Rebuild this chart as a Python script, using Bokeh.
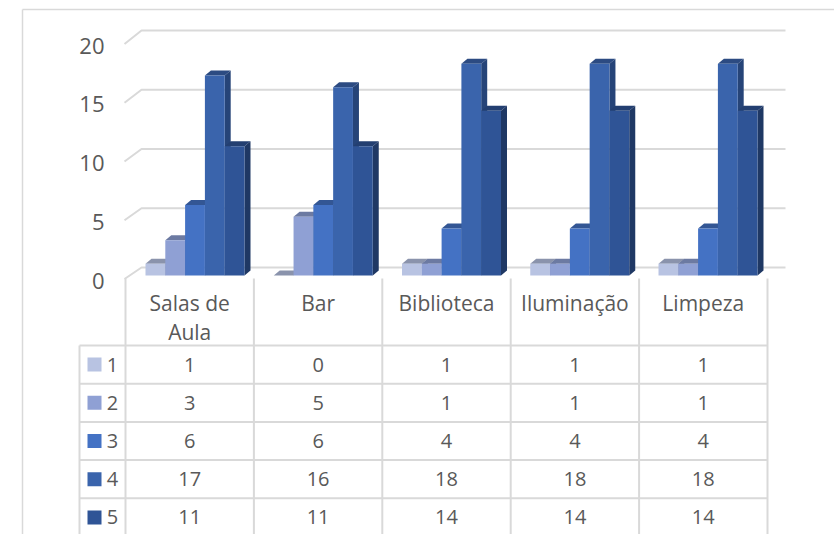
from bokeh.plotting import figure
from bokeh.embed import file_html
from bokeh.resources import INLINE
from bokeh.models import Range1d, LinearAxis, FixedTicker
from bokeh.core.properties import value

categories = ["Salas de\nAula", "Bar", "Biblioteca", "Iluminação", "Limpeza"]
series_names = ["1", "2", "3", "4", "5"]
s1 = [1, 0, 1, 1, 1]
s2 = [3, 5, 1, 1, 1]
s3 = [6, 6, 4, 4, 4]
s4 = [17, 16, 18, 18, 18]
s5 = [11, 11, 14, 14, 14]
y_ticks = [0, 5, 10, 15, 20]
front = ["#B8C3E2", "#8FA0D4", "#4472C4", "#3A64AC", "#2F5496"]
top = ["#8A93AC", "#6C7AA2", "#335694", "#2C4B82", "#233F71"]
side = ["#7C86A4", "#5F6D99", "#2D4D87", "#264478", "#1F3864"]

series = [s1, s2, s3, s4, s5]
FONT = "Open Sans"
TXT = "#595959"
GRID = "#D9D9D9"

W, H = 834, 534
PX0, PXU = 194.5, 128.25     # pixel of group centre 0, pixels per group
PY0, PYU = 280.0, 11.75      # pixel of value 0, pixels per value
def X(px): return (px - PX0) / PXU
def Y(py): return (PY0 - py) / PYU
dx = 1 / PXU
dy = 1 / PYU

p = figure(width=W, height=H, output_backend="svg", toolbar_location=None,
           x_range=Range1d(X(0), X(W)), y_range=Range1d(Y(H), Y(0)),
           min_border=0, min_border_left=0, min_border_right=0, min_border_top=0, min_border_bottom=0,
           x_axis_type=None, y_axis_type=None, outline_line_color=None)
p.grid.visible = False

# value axis
ax = LinearAxis(ticker=FixedTicker(ticks=y_ticks), fixed_location=X(111),
                axis_line_color=None, major_tick_line_color=None, minor_tick_line_color=None,
                major_label_text_font=FONT, major_label_text_font_size="22px",
                major_label_text_color=TXT, major_label_standoff=1)
p.add_layout(ax, "left")

# chart border
p.segment(x0=[X(22), X(22)], y0=[Y(9), Y(9)], x1=[X(834), X(22)], y1=[Y(9), Y(534)], line_color=GRID, line_width=1.5)

# walls
for t in y_ticks:
    fy = Y(278.5) + t
    by = Y(267) + t * (11.85 / PYU)
    p.line([X(124), X(141), X(785)], [fy, by, by], line_color=GRID, line_width=2)

# bars
BW = 19.8 / PXU
D_X, D_Y = 6 * dx, 5 * dy
base = Y(275)
for k, vals in enumerate(series):
    for i, v in enumerate(vals):
        l = i + (k - 2.5) * BW
        r = l + BW
        t = base + v * (11.76 / PYU)
        p.patch([l, l + D_X, r + D_X, r], [t, t + D_Y, t + D_Y, t], fill_color=top[k], line_color=None)
        p.patch([r, r + D_X, r + D_X, r], [base, base + D_Y, t + D_Y, t], fill_color=side[k], line_color=None)
        p.quad(left=l, right=r, bottom=base, top=t, fill_color=front[k], line_color=None)

# data table
cell_x = [125 + 128.4 * i for i in range(6)]
row_y = [345 + 38.2 * i for i in range(6)]
for cx in cell_x:
    p.segment(X(cx), Y(278), X(cx), Y(534), line_color=GRID, line_width=2)
p.segment(X(79), Y(345), X(79), Y(534), line_color=GRID, line_width=2)
for ry in row_y:
    p.segment(X(79), Y(ry), X(767), Y(ry), line_color=GRID, line_width=2)

for i, c in enumerate(categories):
    cxm = X((cell_x[i] + cell_x[i + 1]) / 2)
    lines = c.split("\n")
    for j, line in enumerate(lines):
        p.text([cxm], [Y(302.5 + 29 * j)], text=[line], text_font=value(FONT), text_font_size="21px",
               text_color=TXT, text_align="center", text_baseline="middle")

for k, vals in enumerate(series):
    cy = (row_y[k] + row_y[k + 1]) / 2
    p.quad(left=X(87), right=X(101), top=Y(cy - 7), bottom=Y(cy + 7), fill_color=front[k], line_color=None)
    p.text([X(112)], [Y(cy)], text=[series_names[k]], text_font=value(FONT), text_font_size="20px",
           text_color=TXT, text_align="center", text_baseline="middle")
    for i, v in enumerate(vals):
        p.text([X((cell_x[i] + cell_x[i + 1]) / 2)], [Y(cy)], text=[str(v)], text_font=value(FONT),
               text_font_size="20px", text_color=TXT, text_align="center", text_baseline="middle")

open("out.html", "w").write(file_html(p, INLINE))
